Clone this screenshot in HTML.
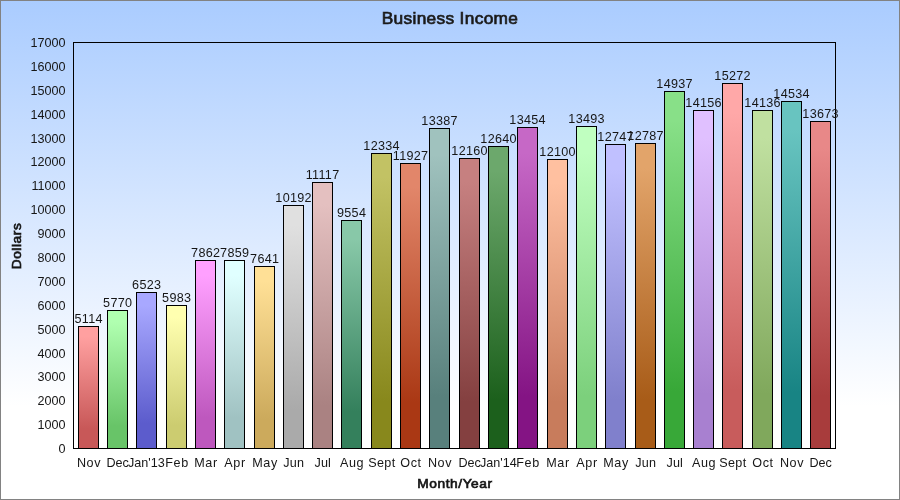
<!DOCTYPE html>
<html><head><meta charset="utf-8"><title>Business Income</title>
<style>
html,body{margin:0;padding:0;}
body{width:900px;height:500px;overflow:hidden;font-family:"Liberation Sans",sans-serif;color:#161616;}
#chart{position:relative;width:898px;height:498px;border:1px solid #828282;background:linear-gradient(to bottom,#aaccff 0px,#ffffff 405px);overflow:hidden;}
#chart div{position:absolute;}
.plot{left:72px;top:41px;width:761px;height:405px;border-left:1px solid #000;border-top:1px solid #000;border-right:1px solid #000;border-bottom:1px solid #000;box-sizing:content-box;}
.bar{box-sizing:border-box;border:1px solid #000;}
.yl{font-size:12.6px;line-height:14px;width:60px;text-align:right;left:4.5px;}
.xl{font-size:12.6px;letter-spacing:0.6px;line-height:14px;width:60px;text-align:center;top:455px;white-space:nowrap;}
.vl{font-size:12.6px;letter-spacing:0.3px;line-height:14px;width:60px;text-align:center;white-space:nowrap;}
.title{font-size:16px;font-weight:normal;-webkit-text-stroke:0.7px #222;letter-spacing:0.3px;left:0px;width:898px;text-align:center;top:8px;line-height:20px;transform:scaleX(1.08);}
.xt{font-size:12.5px;font-weight:normal;-webkit-text-stroke:0.65px #151515;color:#151515;letter-spacing:0.5px;left:72.5px;width:762px;text-align:center;top:476px;line-height:14px;transform:scaleX(1.1);}
.yt{font-size:12.5px;font-weight:normal;-webkit-text-stroke:0.65px #151515;color:#151515;letter-spacing:0.5px;left:-34px;top:238px;width:100px;height:14px;line-height:14px;text-align:center;transform:rotate(-90deg) scaleX(1.1);}
</style></head><body><div id="chart">
<div class="title">Business Income</div>
<div class="plot"></div>
<div class="yl" style="top:441.0px">0</div>
<div class="yl" style="top:417.1px">1000</div>
<div class="yl" style="top:393.2px">2000</div>
<div class="yl" style="top:369.4px">3000</div>
<div class="yl" style="top:345.5px">4000</div>
<div class="yl" style="top:321.6px">5000</div>
<div class="yl" style="top:297.7px">6000</div>
<div class="yl" style="top:273.8px">7000</div>
<div class="yl" style="top:249.9px">8000</div>
<div class="yl" style="top:226.1px">9000</div>
<div class="yl" style="top:202.2px">10000</div>
<div class="yl" style="top:178.3px">11000</div>
<div class="yl" style="top:154.4px">12000</div>
<div class="yl" style="top:130.5px">13000</div>
<div class="yl" style="top:106.6px">14000</div>
<div class="yl" style="top:82.8px">15000</div>
<div class="yl" style="top:58.9px">16000</div>
<div class="yl" style="top:35.0px">17000</div>
<div class="bar" style="left:77px;top:325px;width:21px;height:123px;background:linear-gradient(to bottom,rgb(255, 160, 160) 8%,rgb(200, 88, 88) 84%)"></div>
<div class="xl" style="left:58.0px;letter-spacing:0.6px">Nov</div>
<div class="vl" style="left:57.6px;top:311px">5114</div>
<div class="bar" style="left:106px;top:309px;width:21px;height:139px;background:linear-gradient(to bottom,rgb(176, 255, 176) 8%,rgb(104, 196, 104) 84%)"></div>
<div class="xl" style="left:86.7px;letter-spacing:0px">Dec</div>
<div class="vl" style="left:86.7px;top:295px">5770</div>
<div class="bar" style="left:135px;top:291px;width:21px;height:157px;background:linear-gradient(to bottom,rgb(168, 168, 255) 8%,rgb(92, 92, 204) 84%)"></div>
<div class="xl" style="left:115.3px;letter-spacing:0px">Jan'13</div>
<div class="vl" style="left:115.7px;top:277px">6523</div>
<div class="bar" style="left:165px;top:304px;width:21px;height:144px;background:linear-gradient(to bottom,rgb(255, 255, 176) 8%,rgb(204, 204, 112) 84%)"></div>
<div class="xl" style="left:146.0px;letter-spacing:0.6px">Feb</div>
<div class="vl" style="left:145.7px;top:290px">5983</div>
<div class="bar" style="left:194px;top:259px;width:21px;height:189px;background:linear-gradient(to bottom,rgb(255, 160, 255) 8%,rgb(190, 88, 190) 84%)"></div>
<div class="xl" style="left:175.0px;letter-spacing:0.6px">Mar</div>
<div class="vl" style="left:174.7px;top:245px">7862</div>
<div class="bar" style="left:223px;top:259px;width:21px;height:189px;background:linear-gradient(to bottom,rgb(224, 255, 255) 8%,rgb(160, 194, 194) 84%)"></div>
<div class="xl" style="left:204.0px;letter-spacing:0.6px">Apr</div>
<div class="vl" style="left:203.7px;top:245px">7859</div>
<div class="bar" style="left:253px;top:265px;width:21px;height:183px;background:linear-gradient(to bottom,rgb(255, 224, 150) 8%,rgb(204, 170, 92) 84%)"></div>
<div class="xl" style="left:234.0px;letter-spacing:0.6px">May</div>
<div class="vl" style="left:233.7px;top:251px">7641</div>
<div class="bar" style="left:282px;top:204px;width:21px;height:244px;background:linear-gradient(to bottom,rgb(224, 224, 224) 8%,rgb(170, 170, 170) 84%)"></div>
<div class="xl" style="left:262.8px;letter-spacing:0.2px">Jun</div>
<div class="vl" style="left:262.6px;top:190px">10192</div>
<div class="bar" style="left:311px;top:181px;width:21px;height:267px;background:linear-gradient(to bottom,rgb(228, 192, 192) 8%,rgb(170, 130, 130) 84%)"></div>
<div class="xl" style="left:291.8px;letter-spacing:0.1px">Jul</div>
<div class="vl" style="left:291.6px;top:167px">11117</div>
<div class="bar" style="left:340px;top:219px;width:21px;height:229px;background:linear-gradient(to bottom,rgb(136, 200, 168) 8%,rgb(52, 128, 92) 84%)"></div>
<div class="xl" style="left:321.0px;letter-spacing:0.6px">Aug</div>
<div class="vl" style="left:320.6px;top:205px">9554</div>
<div class="bar" style="left:370px;top:152px;width:21px;height:296px;background:linear-gradient(to bottom,rgb(194, 194, 100) 8%,rgb(136, 136, 28) 84%)"></div>
<div class="xl" style="left:350.9px;letter-spacing:0.3px">Sept</div>
<div class="vl" style="left:350.6px;top:138px">12334</div>
<div class="bar" style="left:399px;top:162px;width:21px;height:286px;background:linear-gradient(to bottom,rgb(226, 134, 106) 8%,rgb(170, 56, 20) 84%)"></div>
<div class="xl" style="left:380.0px;letter-spacing:0.6px">Oct</div>
<div class="vl" style="left:379.6px;top:148px">11927</div>
<div class="bar" style="left:428px;top:127px;width:21px;height:321px;background:linear-gradient(to bottom,rgb(160, 194, 190) 8%,rgb(88, 128, 124) 84%)"></div>
<div class="xl" style="left:409.0px;letter-spacing:0.6px">Nov</div>
<div class="vl" style="left:408.6px;top:113px">13387</div>
<div class="bar" style="left:458px;top:157px;width:21px;height:291px;background:linear-gradient(to bottom,rgb(198, 128, 128) 8%,rgb(132, 64, 64) 84%)"></div>
<div class="xl" style="left:438.7px;letter-spacing:0px">Dec</div>
<div class="vl" style="left:438.6px;top:143px">12160</div>
<div class="bar" style="left:487px;top:145px;width:21px;height:303px;background:linear-gradient(to bottom,rgb(108, 168, 108) 8%,rgb(28, 96, 28) 84%)"></div>
<div class="xl" style="left:467.3px;letter-spacing:0px">Jan'14</div>
<div class="vl" style="left:467.6px;top:131px">12640</div>
<div class="bar" style="left:516px;top:126px;width:21px;height:322px;background:linear-gradient(to bottom,rgb(198, 104, 198) 8%,rgb(132, 20, 132) 84%)"></div>
<div class="xl" style="left:497.0px;letter-spacing:0.6px">Feb</div>
<div class="vl" style="left:496.6px;top:112px">13454</div>
<div class="bar" style="left:546px;top:158px;width:21px;height:290px;background:linear-gradient(to bottom,rgb(255, 192, 160) 8%,rgb(200, 124, 92) 84%)"></div>
<div class="xl" style="left:527.0px;letter-spacing:0.6px">Mar</div>
<div class="vl" style="left:526.6px;top:144px">12100</div>
<div class="bar" style="left:575px;top:125px;width:21px;height:323px;background:linear-gradient(to bottom,rgb(192, 255, 192) 8%,rgb(124, 208, 124) 84%)"></div>
<div class="xl" style="left:556.0px;letter-spacing:0.6px">Apr</div>
<div class="vl" style="left:555.6px;top:111px">13493</div>
<div class="bar" style="left:604px;top:143px;width:21px;height:305px;background:linear-gradient(to bottom,rgb(192, 192, 255) 8%,rgb(128, 128, 204) 84%)"></div>
<div class="xl" style="left:585.0px;letter-spacing:0.6px">May</div>
<div class="vl" style="left:584.6px;top:129px">12747</div>
<div class="bar" style="left:634px;top:142px;width:21px;height:306px;background:linear-gradient(to bottom,rgb(226, 164, 106) 8%,rgb(168, 92, 24) 84%)"></div>
<div class="xl" style="left:614.8px;letter-spacing:0.2px">Jun</div>
<div class="vl" style="left:614.6px;top:128px">12787</div>
<div class="bar" style="left:663px;top:90px;width:21px;height:358px;background:linear-gradient(to bottom,rgb(136, 224, 136) 8%,rgb(56, 168, 56) 84%)"></div>
<div class="xl" style="left:643.8px;letter-spacing:0.1px">Jul</div>
<div class="vl" style="left:643.6px;top:76px">14937</div>
<div class="bar" style="left:692px;top:109px;width:21px;height:339px;background:linear-gradient(to bottom,rgb(224, 192, 255) 8%,rgb(168, 128, 208) 84%)"></div>
<div class="xl" style="left:673.0px;letter-spacing:0.6px">Aug</div>
<div class="vl" style="left:672.6px;top:95px">14156</div>
<div class="bar" style="left:721px;top:82px;width:21px;height:366px;background:linear-gradient(to bottom,rgb(255, 168, 168) 8%,rgb(200, 92, 92) 84%)"></div>
<div class="xl" style="left:701.9px;letter-spacing:0.3px">Sept</div>
<div class="vl" style="left:701.6px;top:68px">15272</div>
<div class="bar" style="left:751px;top:109px;width:21px;height:339px;background:linear-gradient(to bottom,rgb(192, 224, 160) 8%,rgb(128, 168, 92) 84%)"></div>
<div class="xl" style="left:732.0px;letter-spacing:0.6px">Oct</div>
<div class="vl" style="left:731.6px;top:95px">14136</div>
<div class="bar" style="left:780px;top:100px;width:21px;height:348px;background:linear-gradient(to bottom,rgb(104, 196, 192) 8%,rgb(24, 132, 132) 84%)"></div>
<div class="xl" style="left:761.0px;letter-spacing:0.6px">Nov</div>
<div class="vl" style="left:760.6px;top:86px">14534</div>
<div class="bar" style="left:809px;top:120px;width:21px;height:328px;background:linear-gradient(to bottom,rgb(232, 136, 136) 8%,rgb(168, 60, 60) 84%)"></div>
<div class="xl" style="left:789.7px;letter-spacing:0px">Dec</div>
<div class="vl" style="left:789.6px;top:106px">13673</div>
<div class="xt">Month/Year</div>
<div class="yt">Dollars</div>
</div></body></html>
